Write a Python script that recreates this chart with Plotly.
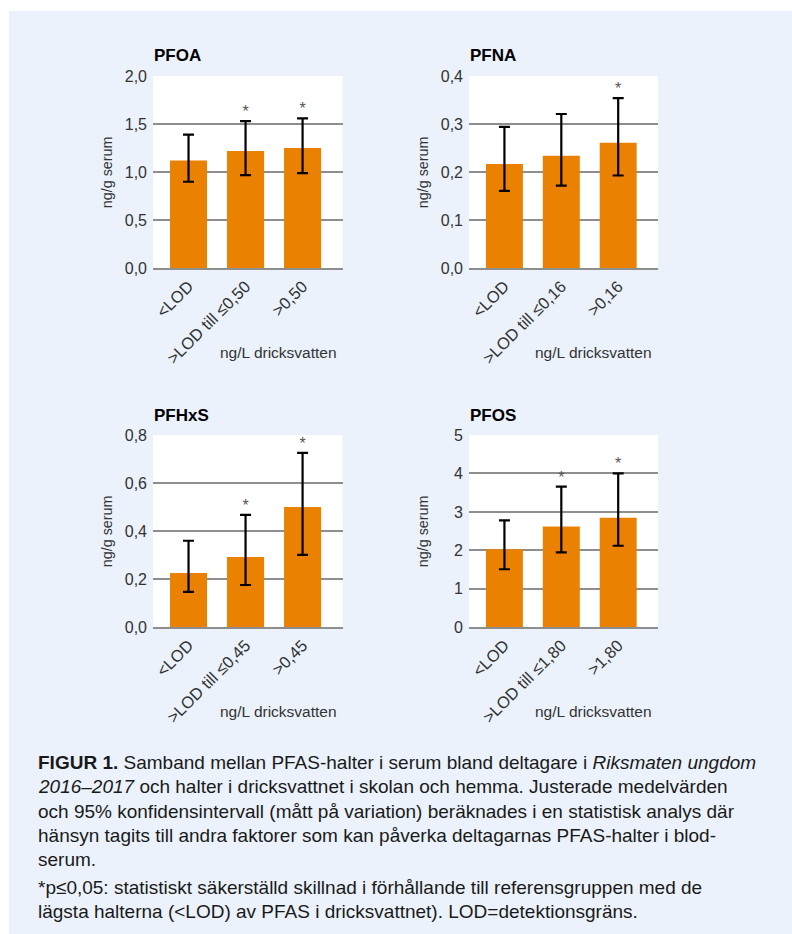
import plotly.graph_objects as go

W, H = 792, 934

# ---------------- data ----------------
pfoa_labels = ["<LOD", ">LOD till ≤0,50", ">0,50"]
pfoa_mean = [1.12, 1.22, 1.25]
pfoa_upper = [1.39, 1.53, 1.56]
pfoa_lower = [0.90, 0.97, 0.99]
pfoa_sig = [False, True, True]

pfna_labels = ["<LOD", ">LOD till ≤0,16", ">0,16"]
pfna_mean = [0.217, 0.234, 0.261]
pfna_upper = [0.294, 0.321, 0.354]
pfna_lower = [0.161, 0.172, 0.193]
pfna_sig = [False, False, True]

pfhxs_labels = ["<LOD", ">LOD till ≤0,45", ">0,45"]
pfhxs_mean = [0.226, 0.292, 0.500]
pfhxs_upper = [0.360, 0.468, 0.726]
pfhxs_lower = [0.147, 0.176, 0.301]
pfhxs_sig = [False, True, True]

pfos_labels = ["<LOD", ">LOD till ≤1,80", ">1,80"]
pfos_mean = [2.03, 2.62, 2.85]
pfos_upper = [2.78, 3.66, 4.00]
pfos_lower = [1.51, 1.95, 2.12]
pfos_sig = [False, True, True]

panel_titles = ["PFOA", "PFNA", "PFHxS", "PFOS"]
y_ranges = [[0, 2.0], [0, 0.4], [0, 0.8], [0, 5]]
y_dticks = [0.5, 0.1, 0.2, 1]
y_formats = [".1f", ".1f", ".1f", "d"]

caption_lines = [
    "<b>FIGUR 1.</b> Samband mellan PFAS-halter i serum bland deltagare i <i>Riksmaten ungdom</i>",
    "<i>2016–2017</i> och halter i dricksvattnet i skolan och hemma. Justerade medelvärden",
    "och 95% konfidensintervall (mått på variation) beräknades i en statistisk analys där",
    "hänsyn tagits till andra faktorer som kan påverka deltagarnas PFAS-halter i blod-",
    "serum.",
    "*p≤0,05: statistiskt säkerställd skillnad i förhållande till referensgruppen med de",
    "lägsta halterna (<LOD) av PFAS i dricksvattnet). LOD=detektionsgräns.",
]
caption_y = [762, 786.5, 811, 835, 859, 887, 911.5]

# ---------------- style ----------------
FONT = "Liberation Sans"
ORANGE = "#EB8100"
GRID = "#8E8E8E"
BG = "#EBF2FB"
TXT = "#333333"

panels = [
    (pfoa_labels, pfoa_mean, pfoa_upper, pfoa_lower, pfoa_sig),
    (pfna_labels, pfna_mean, pfna_upper, pfna_lower, pfna_sig),
    (pfhxs_labels, pfhxs_mean, pfhxs_upper, pfhxs_lower, pfhxs_sig),
    (pfos_labels, pfos_mean, pfos_upper, pfos_lower, pfos_sig),
]

# pixel boxes of the plot areas: (left, right, top, bottom)
boxes = [
    (153, 342.5, 76, 268.3),
    (469, 658, 76, 268.3),
    (153, 342.5, 435, 627.3),
    (469, 658, 435, 627.3),
]

def px(x):
    return x / W

def py(y):
    return 1 - y / H

fig = go.Figure()
annotations = []

for i, ((labels, mean, upper, lower, sig), (l, r, t, b)) in enumerate(zip(panels, boxes)):
    n = "" if i == 0 else str(i + 1)
    xa, ya = "x" + n, "y" + n
    xs = list(range(len(labels)))
    fig.add_trace(go.Bar(
        x=xs, y=mean, xaxis=xa, yaxis=ya,
        marker=dict(color=ORANGE, line=dict(width=0)),
        width=0.65,
        error_y=dict(type="data", symmetric=False,
                     array=[u - m for u, m in zip(upper, mean)],
                     arrayminus=[m - lo for m, lo in zip(mean, lower)],
                     color="black", thickness=2.2, width=5.5),
        showlegend=False, hoverinfo="skip",
    ))
    sx = [x for x, s in zip(xs, sig) if s]
    sy = [u for u, s in zip(upper, sig) if s]
    fig.add_trace(go.Scatter(
        x=sx, y=sy, xaxis=xa, yaxis=ya, mode="text", text=["*"] * len(sx),
        textposition="top center",
        textfont=dict(family=FONT, size=16, color="#555555"),
        showlegend=False, hoverinfo="skip", cliponaxis=False,
    ))
    fig.layout["xaxis" + n] = dict(
        domain=[px(l), px(r)], anchor=ya, range=[-0.623, 2.70],
        tickmode="array", tickvals=xs, ticktext=labels, tickangle=-45,
        tickfont=dict(family=FONT, size=16.5, color=TXT),
        showline=True, linecolor=GRID, linewidth=2, ticks="",
        showgrid=False, zeroline=False, fixedrange=True, automargin=False,
    )
    fig.layout["yaxis" + n] = dict(
        domain=[py(b), py(t)], anchor=xa, range=y_ranges[i],
        dtick=y_dticks[i], tick0=0, tickformat=y_formats[i],
        tickfont=dict(family=FONT, size=16, color=TXT),
        ticklabelstandoff=5,
        showgrid=True, gridcolor=GRID, gridwidth=1.5,
        zeroline=False, showline=False, ticks="", fixedrange=True,
        automargin=False,
    )
    title_y = 55 if i < 2 else 415
    annotations.append(dict(
        text="<b>" + panel_titles[i] + "</b>", xref="paper", yref="paper",
        x=px(l - 1.5), y=py(title_y), xanchor="left", yanchor="middle", showarrow=False,
        font=dict(family=FONT, size=17, color="black"),
    ))
    annotations.append(dict(
        text="ng/g serum", xref="paper", yref="paper",
        x=px(l - 46), y=py((t + b) / 2), xanchor="center", yanchor="middle",
        textangle=-90, showarrow=False,
        font=dict(family=FONT, size=14.3, color=TXT),
    ))
    annotations.append(dict(
        text="ng/L dricksvatten", xref="paper", yref="paper",
        x=px(r - 4), y=py(b + 84), xanchor="right", yanchor="middle",
        showarrow=False, font=dict(family=FONT, size=15.5, color=TXT),
    ))

for line, yy in zip(caption_lines, caption_y):
    annotations.append(dict(
        text=line, xref="paper", yref="paper", x=px(36), y=py(yy),
        xanchor="left", yanchor="middle", showarrow=False,
        font=dict(family=FONT, size=19, color="#1a1a1a"),
    ))

shapes = [
    dict(type="rect", xref="paper", yref="paper", x0=0, x1=1, y0=py(11), y1=1,
         fillcolor="white", line=dict(width=0), layer="below"),
    dict(type="rect", xref="paper", yref="paper", x0=0, x1=px(9), y0=0, y1=1,
         fillcolor="white", line=dict(width=0), layer="below"),
]

fig.update_layout(
    width=W, height=H, margin=dict(l=0, r=0, t=0, b=0, pad=0, autoexpand=False),
    paper_bgcolor=BG, plot_bgcolor="white",
    separators=", ", annotations=annotations, shapes=shapes,
    font=dict(family=FONT, color=TXT),
    showlegend=False,
)

fig.write_html(
    "out.html",
    config={"displayModeBar": False},
    post_script="document.body.style.margin='0';document.body.style.padding='0';"
                "document.body.style.overflow='hidden';",
)
